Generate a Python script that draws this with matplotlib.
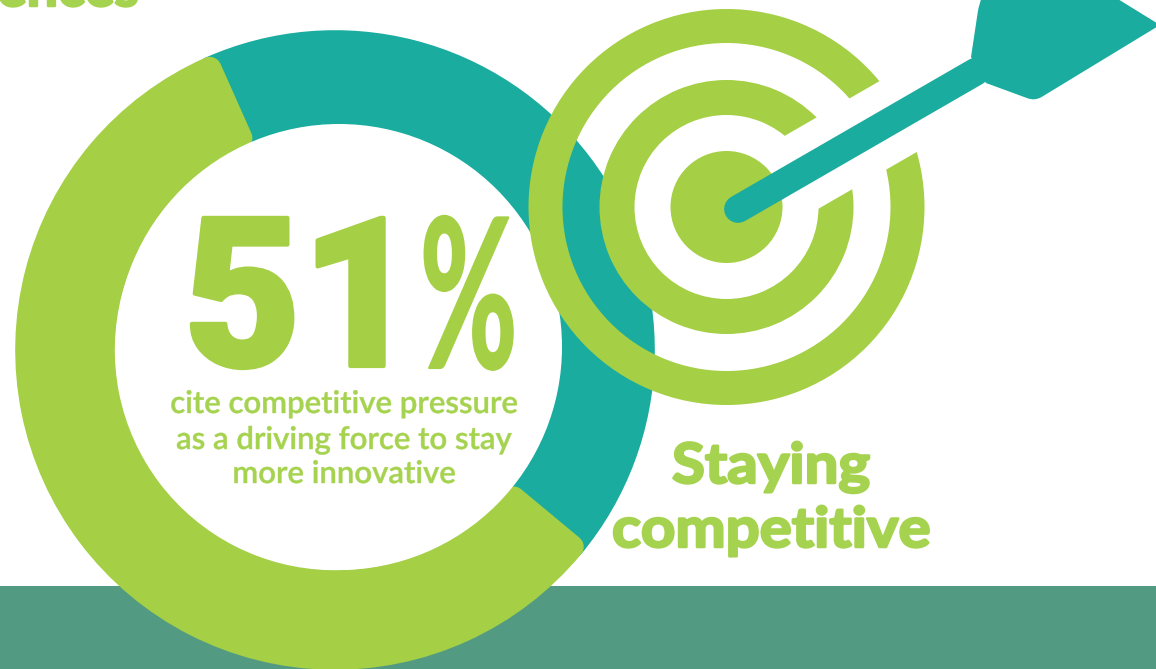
import numpy as np
import matplotlib
matplotlib.use('Agg')
import matplotlib.pyplot as plt
import matplotlib.patches as mpatches
import matplotlib.patheffects as pe
from matplotlib.path import Path
from matplotlib.transforms import Affine2D

# donut shares: the headline figure and the remainder of the ring
share_values = [51, 38]
share_colors = ['#A5CF45', '#19AC9F']
headline_value = '51'
caption_lines = ['cite competitive pressure', 'as a driving force to stay', 'more innovative']
title_lines = ['Staying', 'competitive']
clipped_heading = 'ences'

GREEN = '#A5CF45'
TEAL = '#19AC9F'
BAND = '#529B82'
TEXT_GREEN = '#A6D34F'


class Squeeze(pe.AbstractPathEffect):
    # rescales glyphs about the text origin and can fatten them with a stroke
    def __init__(self, sx=1.0, sy=1.0, stroke=0.0):
        super().__init__()
        self.sx = sx
        self.sy = sy
        self.stroke = stroke

    def draw_path(self, renderer, gc, tpath, affine, rgbFace=None):
        gc0 = renderer.new_gc()
        gc0.copy_properties(gc)
        gc0.set_linewidth(self.stroke)
        gc0.set_foreground(rgbFace)
        gc0.set_joinstyle('round')
        renderer.draw_path(gc0, tpath, Affine2D().scale(self.sx, self.sy) + affine, rgbFace)
        gc0.restore()


def round_poly(points, radii):
    # closed polygon whose corners are replaced by quadratic curves
    pts = np.asarray(points, dtype=float)
    n = len(pts)
    verts, codes = [], []
    for i in range(n):
        p = pts[i]
        a = pts[i - 1] - p
        b = pts[(i + 1) % n] - p
        r = radii[i]
        start = p + a / np.hypot(*a) * r
        end = p + b / np.hypot(*b) * r
        verts.append(start)
        codes.append(Path.MOVETO if i == 0 else Path.LINETO)
        if r > 0:
            verts += [p, end]
            codes += [Path.CURVE3, Path.CURVE3]
    verts.append(verts[0])
    codes.append(Path.CLOSEPOLY)
    return Path(verts, codes)


fig = plt.figure(figsize=(11.56, 6.69), dpi=100)
ax = fig.add_axes([0, 0, 1, 1])

# bottom band
ax.add_patch(mpatches.Rectangle((0, 586), 1156, 90, color=BAND, lw=0, zorder=1))

# donut, edge stroke with round joins gives the soft corners
wedges, _ = ax.pie(share_values, colors=share_colors, startangle=-114, counterclock=False,
                   radius=308, center=(335, 350),
                   wedgeprops=dict(width=76, linewidth=17, joinstyle='round'))
for w, c, z in zip(wedges, share_colors, [3, 2]):
    w.set_edgecolor(c)
    w.set_zorder(z)
# the hole sits a little off the ring centre
ax.add_patch(mpatches.Circle((339, 347), 223, color='white', lw=0, zorder=3.5))

# target rings
tx, ty = 726.5, 207
for r_out, r_in in [(198, 164), (127, 92)]:
    ax.add_patch(mpatches.Wedge((tx, ty), r_out, 0, 360, width=r_out - r_in, color=GREEN, lw=0, zorder=4))

# white gap cut through the rings along the arrow
ang = np.deg2rad(30)
along = np.array([np.cos(ang), -np.sin(ang)])
across = np.array([np.sin(ang), np.cos(ang)])
base = np.array([738, 209])
gap = [base + along * 60 - across * 40, base + along * 240 - across * 40,
       base + along * 240 + across * 40, base + along * 60 + across * 40]
ax.add_patch(mpatches.Polygon(gap, closed=True, color='white', lw=0, zorder=5))
ax.add_patch(mpatches.Circle((tx, ty), 56, color=GREEN, lw=0, zorder=6))

# arrow shaft and head
tip_end = base + along * 275
ax.plot([base[0], tip_end[0]], [base[1], tip_end[1]], color=TEAL, lw=20, solid_capstyle='round', zorder=7)
head = [(979, 4), (986, -12), (1100, -12), (1160, 25), (1035, 101), (986, 83), (971, 57)]
ax.add_patch(mpatches.PathPatch(round_poly(head, [8, 8, 0, 2, 8, 0, 0]), facecolor=TEAL, lw=0, zorder=7))

# big number and percent sign
ax.text(184, 366, headline_value, family='Roboto', weight=900, fontsize=150, color=GREEN, ha='left', va='baseline',
        zorder=8, path_effects=[Squeeze(0.97, 1.0, 3.0)])
ax.text(420, 368, '%', family='Lato', weight=700, fontsize=150, color=GREEN, ha='left', va='baseline',
        zorder=8, path_effects=[Squeeze(0.57, 1.0, 1.5)])

# caption under the number
for line, y in zip(caption_lines, [413, 449, 483]):
    ax.text(344, y, line, family='Lato', weight=600, fontsize=22.4, color=TEXT_GREEN, ha='center', va='baseline', zorder=8,
            path_effects=[Squeeze(1.0, 1.0, 0.3)])

# side title, placed from the left edge because the glyphs get widened
for line, x, y in zip(title_lines, [672, 612], [483, 547]):
    ax.text(x, y, line, family='Lato', weight=700, fontsize=40, color=TEXT_GREEN, ha='left', va='baseline', zorder=8,
            path_effects=[Squeeze(1.08, 1.0, 1.8)])

# heading running off the top edge
ax.text(-3, 6, clipped_heading, family='Lato', weight=700, fontsize=40, color=TEXT_GREEN, ha='left', va='baseline', zorder=8,
        path_effects=[Squeeze(1.0, 1.0, 1.8)])

ax.set_xlim(0, 1156)
ax.set_ylim(669, 0)
ax.axis('off')
fig.savefig('out.png', dpi=100)
